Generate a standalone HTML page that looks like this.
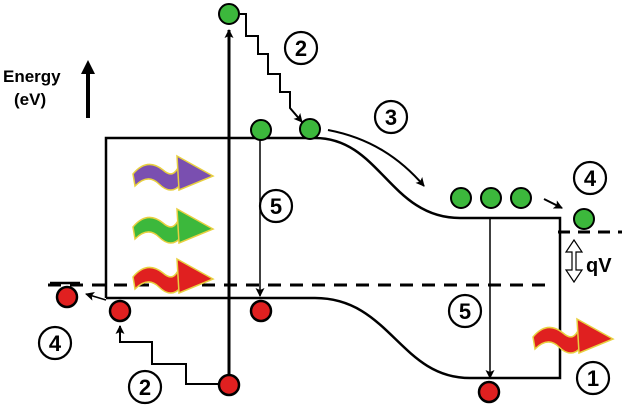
<!DOCTYPE html>
<html><head><style>body{margin:0;background:#fff}svg{display:block}</style></head><body>
<svg width="625" height="409" viewBox="0 0 625 409" xmlns="http://www.w3.org/2000/svg" font-family="Liberation Sans, sans-serif">
<defs>
<marker id="ah" markerWidth="9" markerHeight="9" refX="8" refY="4.5" orient="auto" markerUnits="userSpaceOnUse"><path d="M0,0 L9,4.5 L0,9 L2,4.5 Z" fill="#000"/></marker>
<g id="ph">
<path d="M0,22 C10,10 20,10 30,18 C38,25 42,22 46,14 L48,32 C42,40 34,40 26,32 C18,24 10,26 2,34 Z" stroke="#e8d040" stroke-width="1.5"/>
<path d="M44,4 L80,24 L46,38 Z" stroke="#e8d040" stroke-width="1.5"/>
</g>
</defs>
<rect width="625" height="409" fill="#fff"/>
<text x="3" y="82" font-size="17" font-weight="bold">Energy</text>
<text x="14" y="105" font-size="17" font-weight="bold">(eV)</text>
<line x1="88" y1="118" x2="88" y2="72" stroke="#000" stroke-width="4"/>
<path d="M81,74 L88,60 L95,74 Z" fill="#000"/>
<g fill="none" stroke="#000" stroke-width="2.5">
<path d="M106,298 L106,138 L315,138 C380,138 390,218 460,218 L560,218 L560,378 L470,378 C400,378 390,298 315,298 L106,298"/>
</g>
<line x1="48" y1="285" x2="550" y2="285" stroke="#000" stroke-width="3" stroke-dasharray="13,9"/>
<line x1="558" y1="232" x2="622" y2="232" stroke="#000" stroke-width="3" stroke-dasharray="12,8"/>
<line x1="50" y1="283" x2="80" y2="283" stroke="#000" stroke-width="2.5"/>
<use href="#ph" x="133" y="152" fill="#7a4fb0"/>
<use href="#ph" x="133" y="205" fill="#3cb83c"/>
<use href="#ph" x="133" y="255" fill="#e02020"/>
<use href="#ph" x="533" y="315" fill="#e02020"/>
<line x1="229" y1="376" x2="229" y2="30" stroke="#000" stroke-width="3" marker-end="url(#ah)"/>
<line x1="260" y1="138" x2="260" y2="296" stroke="#000" stroke-width="1.5" marker-end="url(#ah)"/>
<line x1="490" y1="218" x2="490" y2="378" stroke="#000" stroke-width="1.5" marker-end="url(#ah)"/>
<path d="M240,14 L246,14 L246,36 L258,36 L258,54 L268,54 L268,74 L280,74 L280,92 L290,92 L290,108 L302,122" fill="none" stroke="#000" stroke-width="2" marker-end="url(#ah)"/>
<path d="M220,384 L186,384 L186,364 L152,364 L152,342 L120,342 L120,326" fill="none" stroke="#000" stroke-width="2" marker-end="url(#ah)"/>
<path d="M328,130 C370,138 400,158 424,186" fill="none" stroke="#000" stroke-width="2" marker-end="url(#ah)"/>
<path d="M544,199 L562,208" fill="none" stroke="#000" stroke-width="2" marker-end="url(#ah)"/>
<path d="M106,300 L86,294" fill="none" stroke="#000" stroke-width="1.5" marker-end="url(#ah)"/>
<path d="M574,240 L566,252 L572,252 L572,270 L566,270 L574,282 L582,270 L576,270 L576,252 L582,252 Z" fill="none" stroke="#000" stroke-width="1.2"/>
<text x="586" y="272" font-size="20" font-weight="bold">qV</text>
<g fill="#3cb83c" stroke="#000" stroke-width="2">
<circle cx="229" cy="14" r="10"/><circle cx="261" cy="130" r="10"/><circle cx="310" cy="129" r="10"/>
<circle cx="461" cy="198" r="10"/><circle cx="491" cy="198" r="10"/><circle cx="521" cy="198" r="10"/><circle cx="584" cy="219" r="10"/>
</g>
<g fill="#e02020" stroke="#000" stroke-width="2.5">
<circle cx="67" cy="297" r="10"/><circle cx="120" cy="311" r="10"/><circle cx="261" cy="311" r="10"/>
<circle cx="229" cy="385" r="10"/><circle cx="489" cy="392" r="10"/>
</g>
<g fill="#fff" stroke="#000" stroke-width="2.2">
<circle cx="301" cy="48" r="16"/><circle cx="391" cy="117" r="16"/><circle cx="276" cy="206" r="16"/>
<circle cx="590" cy="178" r="16"/><circle cx="465" cy="311" r="16"/><circle cx="55" cy="343" r="16"/>
<circle cx="145" cy="387" r="16"/><circle cx="593" cy="378" r="16"/>
</g>
<g font-size="22" font-weight="bold" text-anchor="middle">
<text x="301" y="56">2</text><text x="391" y="125">3</text><text x="276" y="214">5</text>
<text x="590" y="186">4</text><text x="465" y="319">5</text><text x="55" y="351">4</text>
<text x="145" y="395">2</text><text x="593" y="386">1</text>
</g>
</svg>
</body></html>
